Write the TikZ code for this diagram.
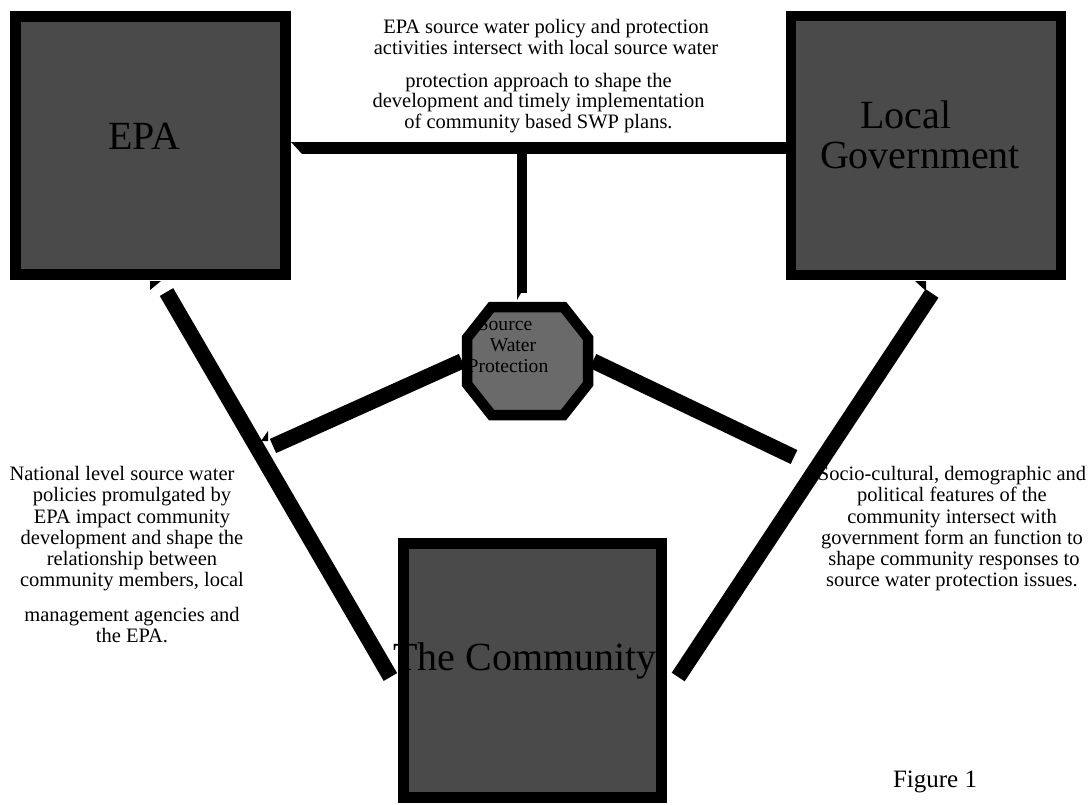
\documentclass[tikz,border=0pt]{standalone}
\usepackage{fontspec}
\setmainfont{Liberation Serif}
\usetikzlibrary{calc,backgrounds}
\definecolor{boxfill}{RGB}{74,74,74}
\definecolor{octfill}{RGB}{106,106,106}
\begin{document}
\begin{tikzpicture}[x=1pt,y=-1pt,
  box/.style={draw=black,fill=boxfill,line width=10.8pt,inner sep=0pt,outer sep=5.4pt},
  biglabel/.style={font=\fontsize{40}{40}\selectfont,inner sep=0pt,text=black},
  octlabel/.style={font=\fontsize{19.6}{21}\selectfont,inner sep=0pt,text=black},
  txt/.style={font=\fontsize{20.5}{21.3}\selectfont,align=center,inner sep=0pt,text=black},
  conn/.style={line width=15.5pt,draw=black},
  straightconn/.style={line width=11.5pt,draw=black},
  notch/.style={fill=black}]
\useasboundingbox (0,0) rectangle (1091,804);

% boxes
\node[box,minimum width=270.3pt,minimum height=258.3pt] (epa) at (150.5,145.5) {};
\node[box,minimum width=270pt,minimum height=259pt] (lg) at (926,145.5) {};
\node[box,minimum width=258pt,minimum height=254pt] (com) at (532.8,670.5) {};

\node[biglabel,anchor=base] (epat) at (144,149) {EPA};
\node[biglabel,anchor=base] (lgt1) at (906,128) {Local};
\node[biglabel,anchor=base] (lgt2) at (920,168) {Government};
\node[biglabel,anchor=base] (comt) at (525,670) {The Community};

% source water protection octagon
\node[minimum width=131pt,minimum height=118pt,inner sep=0pt,outer sep=0pt] (swp) at (527.5,361) {};
\begin{scope}[shift={(swp.center)}]
  \fill[octfill] (-36,-54) -- (36,-54) -- (60.5,-23) -- (60.5,23) -- (36,54) -- (-36,54) -- (-60.5,23) -- (-60.5,-23) -- cycle;
\end{scope}
\node[octlabel,anchor=base] (swpt1) at (505,330) {Source};
\node[octlabel,anchor=base] (swpt2) at (513,351) {Water};
\node[octlabel,anchor=base] (swpt3) at (508,372) {Protection};
\begin{scope}[shift={(swp.center)}]
  \draw[black,line width=10.5pt] (-36,-54) -- (36,-54) -- (60.5,-23) -- (60.5,23) -- (36,54) -- (-36,54) -- (-60.5,23) -- (-60.5,-23) -- cycle;
\end{scope}

% connectors
\coordinate (tj) at (522,148);
\coordinate (l2a) at ($(epa.south)+(16,12)$);
\coordinate (l2b) at ($(com.west)+(-8,6.5)$);
\coordinate (l5a) at ($(lg.south)+(6,13)$);
\coordinate (l5b) at ($(com.east)+(11,6.5)$);
\coordinate (l3b) at (273,446);
\coordinate (l4b) at (794,457);
\begin{scope}[on background layer]
  \draw[straightconn] ($(epa.east |- tj)+(11,0)$) -- (lg.west |- tj);
  \draw[straightconn,line width=10.5pt] (tj) -- ($(tj |- swp.north)+(0,-9)$);
  \draw[conn] (l2a) -- (l2b);
  \draw[conn] (l5a) -- (l5b);
  \draw[conn] (swp.west) -- (l3b);
  \draw[conn] (swp.east) -- (l4b);
  \fill[notch] (291,142) -- (302,142) -- (302,154) -- cycle;
  \fill[notch] (150,281) -- (161,281) -- (150,290) -- cycle;
  \fill[notch] (915,281) -- (926,281) -- (926,291) -- cycle;
  \fill[notch] (517,293) -- (521,293) -- (517,300) -- cycle;
  \fill[notch] (268,431) -- (261,441) -- (268,441) -- cycle;
\end{scope}

% texts
\node[txt,anchor=north] (topA) at (546,19) {EPA source water policy and protection\\activities intersect with local source water};
\node[txt,anchor=north,font=\fontsize{20.5}{20.5}\selectfont] (topB) at (538.5,73) {protection approach to shape the\\development and timely implementation\\of community based SWP plans.};
\node[txt,anchor=north] (leftT) at (132,466) {National level source water\hspace*{20pt}\\policies promulgated by\\EPA impact community\\development and shape the\\relationship between\hspace*{10pt}\\community members, local\\[13pt]management agencies and\\the EPA.};
\node[txt,anchor=north] (rightT) at (952,466) {Socio-cultural, demographic and\\political features of the\hspace*{18pt}\\community intersect with\hspace*{16pt}\\government form an function to\hspace*{6pt}\\\hspace*{4pt}shape community responses to\\source water protection issues.};
\node[font=\fontsize{25}{25}\selectfont,anchor=base,inner sep=0pt] (fig) at (935,787) {Figure 1};
\end{tikzpicture}
\end{document}
